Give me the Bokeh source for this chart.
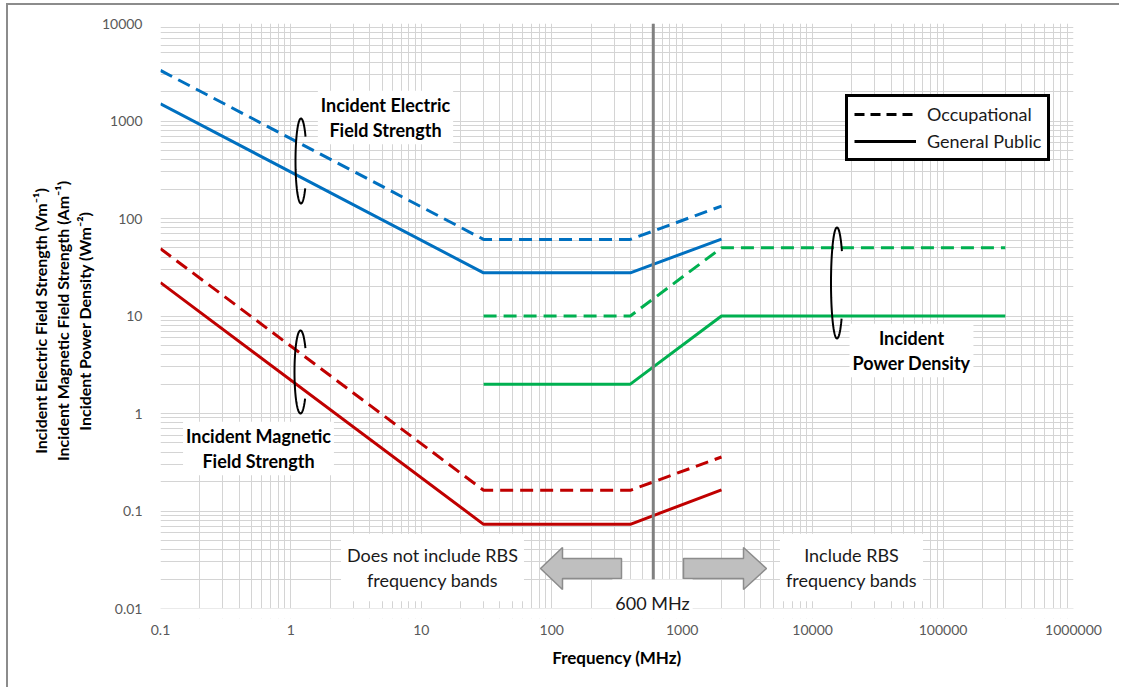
import math
from bokeh.plotting import figure
from bokeh.models import Range1d, FixedTicker, Label, Legend, LegendItem, BoxAnnotation
from bokeh.embed import file_html
from bokeh.resources import INLINE

# ---------------- data ----------------
freq_field = [0.1, 30, 400, 2000]          # MHz
e_occupational = [3300, 61, 61, 134]       # V/m
e_public = [1500, 27.7, 27.7, 61.5]        # V/m
h_occupational = [49, 0.163, 0.163, 0.358] # A/m
h_public = [22, 0.073, 0.073, 0.165]       # A/m
freq_power = [30, 400, 2000, 300000]       # MHz
s_occupational = [10, 10, 50, 50]          # W/m2
s_public = [2, 2, 10, 10]                  # W/m2
cutoff_freq = 600                          # MHz

x_tick_values = [0.1, 1, 10, 100, 1000, 10000, 100000, 1000000]
x_tick_labels = ["0.1", "1", "10", "100", "1000", "10000", "100000", "1000000"]
y_tick_values = [0.01, 0.1, 1, 10, 100, 1000, 10000]
y_tick_labels = ["0.01", "0.1", "1", "10", "100", "1000", "10000"]

# ---------------- style / layout ----------------
FONT = "Lato"
BLUE, RED, GREEN = "#0070C0", "#C00000", "#00B050"
DASH = "13 7"
GRID = "#D4D4D4"

# page geometry (px)
OX, OY = 8, 5                 # canvas origin on page (after margin + border)
W, H = 1113, 684
FL, FR, FT = 160, 1073, 23    # frame left/right/top on page
Y_BOTTOM = 608                # page y of the 0.01 gridline
PAD_BELOW = 10                # extra frame below 0.01 (for the 600 MHz tag)
FB = Y_BOTTOM + PAD_BELOW
PX_PER_DEC_Y = (Y_BOTTOM - FT) / 6.0
LX0, LX1 = -1, 6
LY1 = 4
LY0 = -2 - PAD_BELOW / PX_PER_DEC_Y


def px(xp, yp):
    lx = LX0 + (xp - FL) / (FR - FL) * (LX1 - LX0)
    ly = LY1 - (yp - FT) / PX_PER_DEC_Y
    return 10 ** lx, 10 ** ly


p = figure(width=W, height=H, x_axis_type="log", y_axis_type="log",
           x_range=Range1d(0.1, 1e6), y_range=Range1d(10 ** LY0, 1e4),
           output_backend="svg", toolbar_location=None,
           min_border_left=FL - OX, min_border_right=OX + W - FR,
           min_border_top=FT - OY, min_border_bottom=OY + H - FB)
p.outline_line_color = None
p.background_fill_color = "white"
p.border_fill_color = "white"

x_minor = [m * 10 ** e for e in range(-1, 6) for m in range(2, 10)]
y_minor = [m * 10 ** e for e in range(-2, 4) for m in range(2, 10)]
xt = FixedTicker(ticks=x_tick_values, minor_ticks=x_minor)
yt = FixedTicker(ticks=y_tick_values, minor_ticks=y_minor)
p.xaxis.ticker = xt
p.yaxis.ticker = yt
p.xgrid.ticker = xt
p.ygrid.ticker = yt
for g in (p.xgrid, p.ygrid):
    g.grid_line_color = GRID
    g.minor_grid_line_color = GRID
    g.grid_line_width = 1
    g.minor_grid_line_width = 1

p.xaxis.major_label_overrides = dict(zip(x_tick_values, x_tick_labels))
p.yaxis.major_label_overrides = dict(zip(y_tick_values, y_tick_labels))
for ax in (p.xaxis, p.yaxis):
    ax.axis_line_color = None
    ax.major_tick_line_color = None
    ax.minor_tick_line_color = None
    ax.major_tick_out = 0
    ax.major_tick_in = 0
    ax.minor_tick_out = 0
    ax.major_label_text_font = FONT
    ax.major_label_text_font_size = "14px"
    ax.major_label_text_color = "#595959"
    ax.axis_label_text_font = FONT
    ax.axis_label_text_font_style = "bold"
    ax.axis_label_text_color = "#000000"
p.xaxis.major_label_standoff = 6
p.yaxis.major_label_standoff = 18
p.xaxis.axis_label = "Frequency (MHz)"
p.xaxis.axis_label_text_font_size = "17px"
p.xaxis.axis_label_standoff = 9
p.yaxis.axis_label = ("Incident Electric Field Strength (Vm\u207b\u00b9)\n"
                      "Incident Magnetic Field Strength (Am\u207b\u00b9)\n"
                      "Incident Power Density (Wm\u207b\u00b2)")
p.yaxis.axis_label_text_font_size = "16px"
p.yaxis.axis_label_text_line_height = 1.15
p.yaxis.axis_label_standoff = 5

# white strip under the 0.01 line (frame extension for the 600 MHz tag)
p.add_layout(BoxAnnotation(top=0.01, fill_color="white", fill_alpha=1, line_color=None))

# ---------------- data lines ----------------
lw = 3
p.line(freq_field, e_occupational, color=BLUE, line_width=lw, line_dash=DASH)
p.line(freq_field, e_public, color=BLUE, line_width=lw)
p.line(freq_field, h_occupational, color=RED, line_width=lw, line_dash=DASH)
p.line(freq_field, h_public, color=RED, line_width=lw)
p.line(freq_power, s_occupational, color=GREEN, line_width=lw, line_dash=DASH)
p.line(freq_power, s_public, color=GREEN, line_width=lw)

# 600 MHz boundary line
_, ybot = px(0, 587)
p.line([cutoff_freq, cutoff_freq], [1e4, ybot], color="#808080", line_width=3)

# ---------------- loop markers ----------------
def loop(cx, cy, a, b, start=35, end=320, n=80):
    xs, ys = [], []
    for i in range(n + 1):
        t = math.radians(start + (end - start) * i / n)
        x, y = px(cx + a * math.cos(t), cy - b * math.sin(t))
        xs.append(x)
        ys.append(y)
    p.line(xs, ys, color="black", line_width=2)

loop(300.5, 160.5, 5.5, 42.5)
loop(300.0, 371.5, 6.0, 41.5)
loop(836.5, 282.5, 6.0, 55.5)

# ---------------- arrows ----------------
def arrow(points):
    xs, ys = zip(*[px(a, b) for a, b in points])
    p.patch(list(xs), list(ys), fill_color="#BFBFBF", line_color="#8C8C8C", line_width=1.5)

arrow([(540, 568), (562, 547), (562, 558), (621, 558), (621, 578), (562, 578), (562, 589)])
arrow([(683, 558), (743, 558), (743, 547), (766, 568), (743, 589), (743, 578), (683, 578)])

# ---------------- text boxes ----------------
def box_label(xp, yp, text, bold=True, padding=(3, 3), size="18px"):
    x, y = px(xp, yp)
    p.add_layout(Label(x=x, y=y, text=text, text_font=FONT, text_font_size=size,
                       text_font_style="bold" if bold else "normal",
                       text_color="#000000" if bold else "#1a1a1a",
                       text_align="center", text_baseline="middle",
                       text_line_height=1.16,
                       background_fill_color="white", padding=padding))

box_label(385, 117, "Incident Electric\nField Strength")
box_label(258, 448, "Incident Magnetic\nField Strength")
box_label(911, 350, "Incident\nPower Density")
box_label(432, 567, "Does not include RBS\nfrequency bands", bold=False, padding=(6, 10))
box_label(851, 567, "Include RBS\nfrequency bands", bold=False, padding=(6, 10))
box_label(652, 602, "600 MHz", bold=False, padding=(3, 12))

# ---------------- legend ----------------
r_occ = p.line([1e-3, 2e-3], [1e-5, 1e-5], color="black", line_width=3, line_dash="10 6")
r_gp = p.line([1e-3, 2e-3], [1e-5, 1e-5], color="black", line_width=3)
legend = Legend(items=[LegendItem(label="Occupational", renderers=[r_occ]),
                       LegendItem(label="General Public", renderers=[r_gp])],
                location=(845 - FL, FB - 161),
                label_text_font=FONT, label_text_font_size="18px",
                label_text_color="#1a1a1a",
                border_line_color="black", border_line_width=3, border_line_alpha=1,
                padding=6, spacing=5, glyph_width=62, glyph_height=20,
                label_height=20, label_standoff=11, margin=0,
                background_fill_color="white", background_fill_alpha=1)
p.add_layout(legend)

p.styles = {"margin-left": "6px", "margin-top": "3px",
            "border-left": "2px solid #8C8C8C", "border-top": "2px solid #8C8C8C"}

open("out.html", "w").write(file_html(p, INLINE))
